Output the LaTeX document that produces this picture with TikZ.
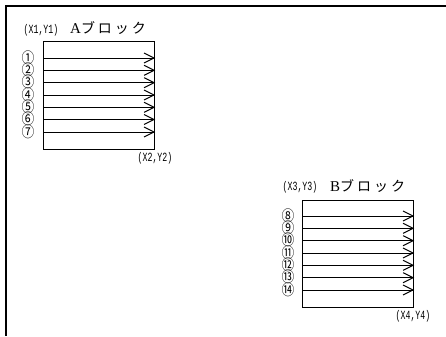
\documentclass[tikz,border=0pt]{standalone}
\usepackage{fontspec}
\usetikzlibrary{arrows.meta}
\newfontfamily\jpfont{Noto Sans CJK JP}
\newfontfamily\monofont{Liberation Mono}
\newfontfamily\serfont{Liberation Serif}
\tikzset{
  frame/.style={line width=1.4bp, black},
  blk/.style={draw, line width=1.2bp, inner sep=0pt, anchor=north west,
              minimum width=111bp, minimum height=108bp},
  arr/.style={line width=1bp, -{Straight Barb[length=10bp,width=10bp,line width=1bp]}},
  num/.style={inner sep=0pt, text height=10.5bp, text depth=0bp,
              font=\jpfont\fontsize{15bp}{15bp}\selectfont, xscale=0.85},
  coord/.style={inner sep=0pt, font=\monofont\fontsize{12.5bp}{13bp}\selectfont, xscale=0.66},
  ttl/.style={inner sep=0pt, anchor=west, font=\fontsize{14bp}{15bp}\selectfont},
}
\begin{document}
\begin{tikzpicture}[x=1bp,y=-1bp]
\useasboundingbox (0,0) rectangle (446,336);
\coordinate (fr1) at (446,6);
\coordinate (fr2) at (6,6);
\coordinate (fr3) at (6,336);
\draw[frame] (fr1) -- (fr2) -- (fr3);
% Block A
\node[blk] (A) at (43,41) {};
\node[coord] (xy1) at (41,30) {(X1,Y1)};
\node[ttl] (tA) at (70,28) {{\serfont\fontsize{15bp}{15bp}\selectfont A}{\jpfont\addfontfeatures{LetterSpace=21}ブロック}};
\node[coord] (xy2) at (155,158) {(X2,Y2)};
\foreach \i/\yy/\t in {1/58/①,2/70.3/②,3/82.7/③,4/95/④,5/107.3/⑤,6/119.5/⑥,7/132/⑦}{
  \coordinate (ca\i) at (0,\yy);
  \draw[arr] (A.west |- ca\i) -- (A.east |- ca\i);
  \node[num] (na\i) at (28,\yy) {\t};
}
% Block B
\node[blk, minimum height=107bp] (B) at (302,200) {};
\node[coord] (xy3) at (300,187) {(X3,Y3)};
\node[ttl] (tB) at (330,186) {{\serfont\fontsize{15bp}{15bp}\selectfont B}{\jpfont\addfontfeatures{LetterSpace=21}ブロック}};
\node[coord] (xy4) at (413,316) {(X4,Y4)};
\foreach \i/\yy/\t in {8/216/⑧,9/228.3/⑨,10/240.7/⑩,11/253/⑪,12/265.3/⑫,13/277.7/⑬,14/290/⑭}{
  \coordinate (cb\i) at (0,\yy);
  \draw[arr] (B.west |- cb\i) -- (B.east |- cb\i);
  \node[num] (nb\i) at (288,\yy) {\t};
}
\end{tikzpicture}
\end{document}
